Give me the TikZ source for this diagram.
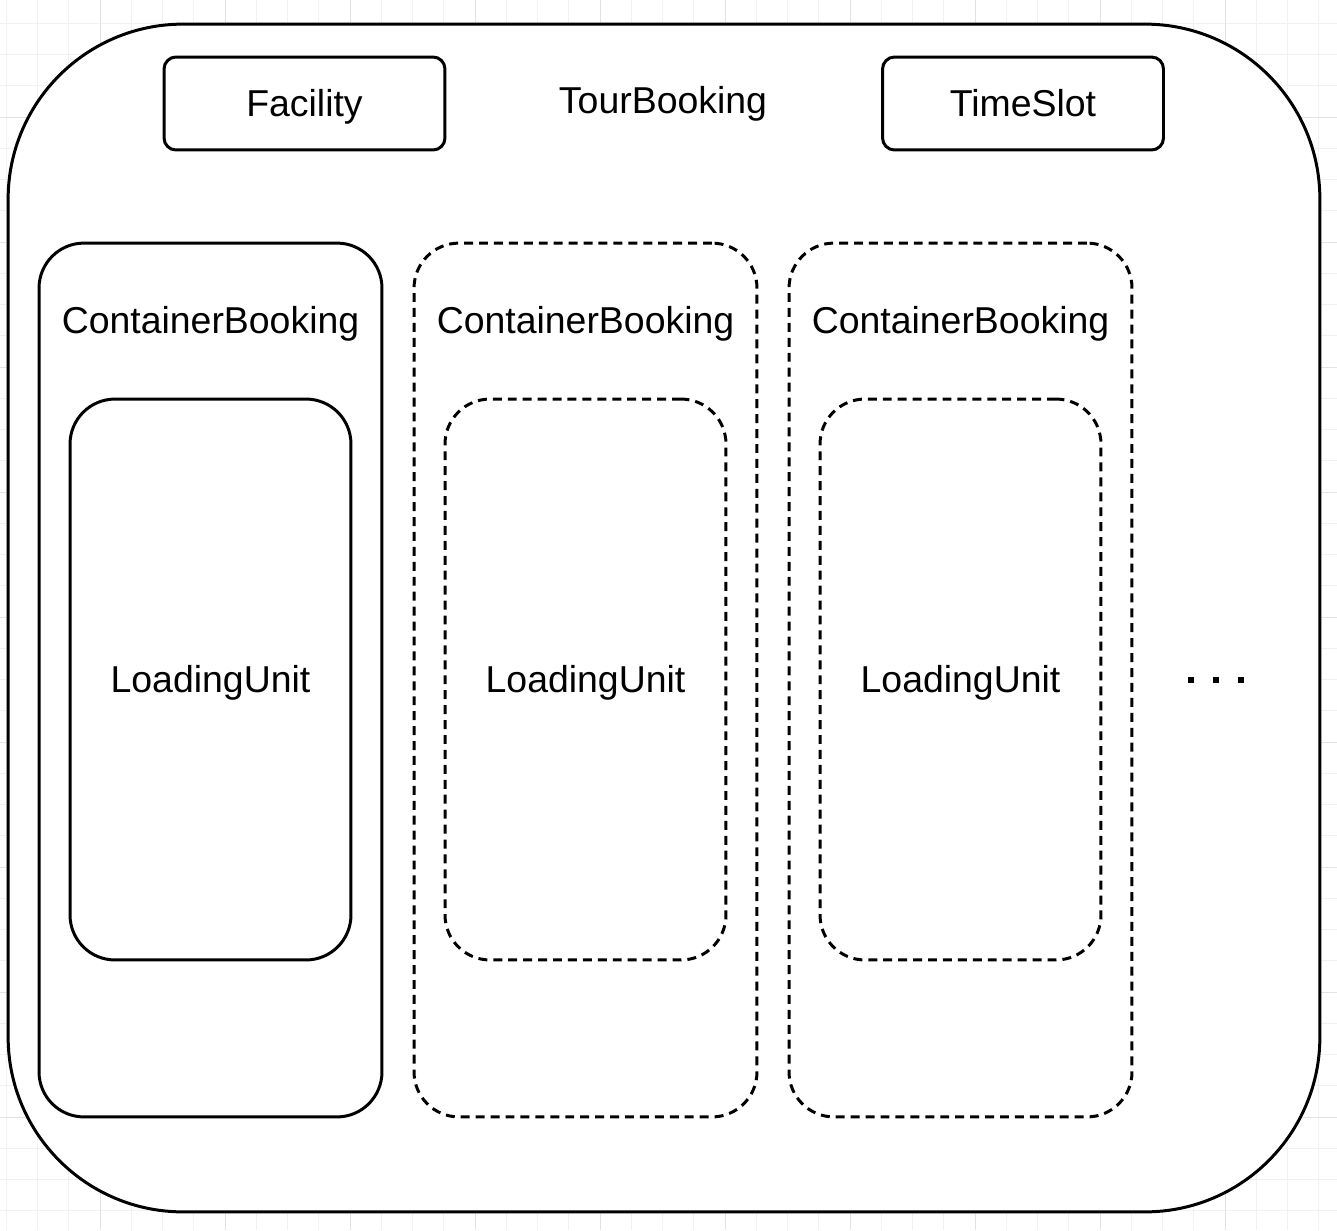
\documentclass[tikz,border=0pt]{standalone}
\usepackage{fontspec}
\setmainfont{Liberation Sans}
\usetikzlibrary{positioning}

\definecolor{gridminor}{HTML}{F1F1F1}
\definecolor{gridmajor}{HTML}{E2E2E2}

\tikzset{
    frame/.style={draw, line width=1.7pt, fill=white, rounded corners=#1},
    dashframe/.style={frame=#1, dash pattern=on 5.1pt off 3.4pt},
    txt/.style={font=\fontsize{21.3pt}{25pt}\selectfont, inner sep=0pt,
        text height=15.25pt, text depth=0pt},
}

\begin{document}
\begin{tikzpicture}[x=0.02cm, y=-0.02cm]
    \useasboundingbox (0, 0) rectangle (1337, 1230);

    % background grid
    \foreach \k in {0,...,42} {
        \draw[gridminor, line width=0.5pt] (6.25 + 31.25*\k, 0) -- (6.25 + 31.25*\k, 1230);
    }
    \foreach \k in {0,...,39} {
        \draw[gridminor, line width=0.5pt] (0, 23.25 + 31.25*\k) -- (1337, 23.25 + 31.25*\k);
    }
    \foreach \k in {0,...,10} {
        \draw[gridmajor, line width=0.5pt] (100 + 125*\k, 0) -- (100 + 125*\k, 1230);
    }
    \foreach \k in {0,...,9} {
        \draw[gridmajor, line width=0.5pt] (0, 117 + 125*\k) -- (1337, 117 + 125*\k);
    }

    \node[frame=3.5cm, minimum width=26.24cm, minimum height=23.76cm] (tour) at (664, 618) {};
    \node[txt] (tourt) at (663, 100) {TourBooking};

    \node[frame=0.24cm, txt, minimum width=5.62cm, minimum height=1.86cm] (fac) at (304.5, 103.5) {Facility};
    \node[frame=0.24cm, txt, minimum width=5.62cm, minimum height=1.86cm] (slot) at (1023, 103.5) {TimeSlot};

    \foreach \i/\x/\st in {1/210.5/frame, 2/585.5/dashframe, 3/960.5/dashframe} {
        \node[\st=0.9cm, minimum width=6.86cm, minimum height=17.48cm] (cb\i) at (\x, 680) {};
        \node[txt] (cbt\i) at (\x, 320) {ContainerBooking};
        \node[\st=0.9cm, txt, minimum width=5.62cm, minimum height=11.22cm] (lu\i) at (\x, 679.5) {LoadingUnit};
    }

    % more bookings
    \foreach \d in {0,1,2} {
        \fill (1188 + 25*\d, 677) rectangle (1194 + 25*\d, 683);
    }
\end{tikzpicture}
\end{document}
